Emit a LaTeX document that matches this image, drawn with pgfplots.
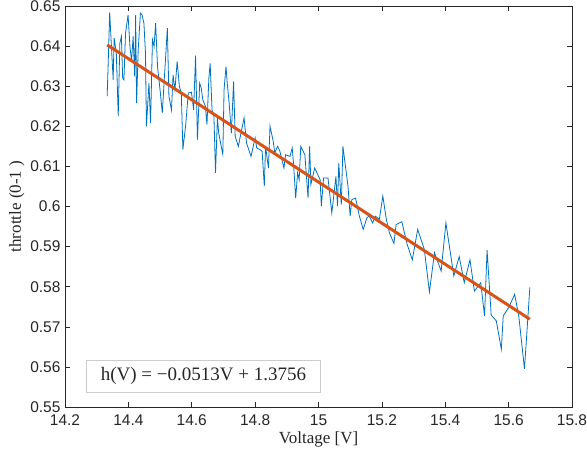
\documentclass[border=0pt]{standalone}
\usepackage{fontspec}
\setmainfont{Liberation Serif}
\setsansfont{Liberation Sans}
\usepackage{pgfplots}
\pgfplotsset{compat=1.18}

\definecolor{mblue}{rgb}{0,0.447,0.741}
\definecolor{morange}{rgb}{0.85,0.325,0.098}
\definecolor{axgray}{rgb}{0.15,0.15,0.15}

\begin{document}
\begin{tikzpicture}
\useasboundingbox (-65bp,-55bp) rectangle (522bp,407bp);
\begin{axis}[
    at={(0,0)}, anchor=south west,
    scale only axis,
    width=507bp, height=401bp,
    xmin=14.2, xmax=15.8,
    ymin=0.55, ymax=0.65,
    xtick={14.2,14.4,14.6,14.8,15,15.2,15.4,15.6,15.8},
    ytick={0.55,0.56,0.57,0.58,0.59,0.6,0.61,0.62,0.63,0.64,0.65},
    tick align=inside,
    major tick length=5bp,
    axis line style={axgray, line width=0.6bp},
    tick style={axgray, line width=0.6bp},
    /pgf/number format/assume math mode=true,
    ticklabel style={font=\fontsize{15.5bp}{18bp}\sffamily, text=axgray},
    xticklabel style={yshift=-4bp},
    yticklabel style={/pgf/number format/precision=2, xshift=-1bp},
    xlabel={Voltage [V]},
    ylabel={throttle (0-1 )},
    label style={font=\fontsize{17bp}{20bp}\selectfont, text=axgray},
    xlabel style={yshift=1bp},
    ylabel style={yshift=-1bp},
    clip=false,
]
% measured data
\addplot[mblue, line width=0.8bp, mark=none] coordinates {
(14.333,0.6275) (14.336,0.6349) (14.341,0.6484) (14.346,0.6407) (14.352,0.6316)
(14.355,0.6420) (14.362,0.6382) (14.368,0.6225) (14.373,0.6407) (14.378,0.6424)
(14.382,0.6320) (14.386,0.6316) (14.391,0.6432) (14.399,0.6478) (14.405,0.6399)
(14.410,0.6362) (14.415,0.6424) (14.420,0.6324) (14.423,0.6478) (14.426,0.6258)
(14.431,0.6391) (14.438,0.6482) (14.443,0.6478) (14.449,0.6457) (14.454,0.6382)
(14.457,0.6200) (14.465,0.6308) (14.470,0.6208) (14.476,0.6416) (14.481,0.6399)
(14.486,0.6457) (14.492,0.6349) (14.501,0.6283) (14.507,0.6233) (14.512,0.6299)
(14.523,0.6445) (14.528,0.6275) (14.536,0.6241) (14.541,0.6328) (14.547,0.6291)
(14.554,0.6362) (14.561,0.6299) (14.567,0.6283) (14.572,0.6142) (14.581,0.6204)
(14.589,0.6283) (14.599,0.6285) (14.606,0.6241) (14.612,0.6376) (14.618,0.6167)
(14.625,0.6308) (14.630,0.6295) (14.635,0.6266) (14.643,0.6250) (14.648,0.6204)
(14.654,0.6320) (14.658,0.6357) (14.664,0.6241) (14.670,0.6225) (14.675,0.6084)
(14.681,0.6221) (14.685,0.6183) (14.698,0.6130) (14.702,0.6291) (14.708,0.6349)
(14.712,0.6308) (14.718,0.6258) (14.725,0.6183) (14.732,0.6312) (14.737,0.6175)
(14.747,0.6150) (14.765,0.6221) (14.773,0.6158) (14.787,0.6125) (14.800,0.6171)
(14.805,0.6146) (14.815,0.6142) (14.822,0.6138) (14.829,0.6051) (14.833,0.6150)
(14.842,0.6096) (14.847,0.6200) (14.857,0.6163) (14.862,0.6134) (14.871,0.6150)
(14.878,0.6138) (14.891,0.6096) (14.896,0.6129) (14.910,0.6125) (14.917,0.6146)
(14.921,0.6109) (14.928,0.6021) (14.934,0.6084) (14.939,0.6067) (14.944,0.6150)
(14.957,0.6129) (14.967,0.6021) (14.972,0.6150) (14.976,0.6055) (14.988,0.6096)
(15.005,0.6067) (15.009,0.6001) (15.016,0.6071) (15.030,0.6071) (15.042,0.5984)
(15.055,0.6075) (15.060,0.6001) (15.064,0.6109) (15.072,0.6005) (15.077,0.6150)
(15.093,0.6051) (15.100,0.5976) (15.105,0.6017) (15.117,0.6021) (15.129,0.5976)
(15.141,0.5943) (15.153,0.5972) (15.160,0.5976) (15.171,0.5959) (15.179,0.5976)
(15.192,0.5968) (15.203,0.6026) (15.214,0.5968) (15.224,0.5934) (15.238,0.5908)
(15.245,0.5955) (15.263,0.5962) (15.280,0.5905) (15.296,0.5867) (15.313,0.5943)
(15.334,0.5893) (15.350,0.5787) (15.366,0.5885) (15.387,0.5839) (15.402,0.5959)
(15.427,0.5827) (15.444,0.5875) (15.460,0.5810) (15.478,0.5867) (15.492,0.5789)
(15.512,0.5810) (15.524,0.5727) (15.532,0.5891) (15.545,0.5729) (15.561,0.5715)
(15.577,0.5644) (15.583,0.5727) (15.600,0.5748) (15.619,0.5781) (15.632,0.5727)
(15.650,0.5595) (15.667,0.5798)
};
% linear fit h(V) = -0.0513V + 1.3756
\addplot[morange, line width=3bp, mark=none] coordinates {
(14.333,0.6403) (15.667,0.5719)
};
% equation box
\draw[black!20, line width=0.8bp, fill=white]
    (axis cs:14.269,0.5537) rectangle (axis cs:15.005,0.5616);
\node[font=\fontsize{19bp}{22bp}\selectfont, text=black!85]
    at (axis cs:14.637,0.55765) {h(V) = −0.0513V + 1.3756};
\end{axis}
\end{tikzpicture}
\end{document}
